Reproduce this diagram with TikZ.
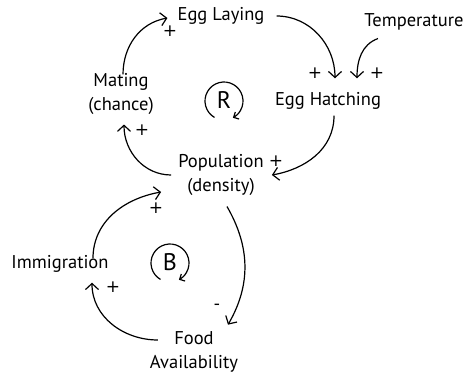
\documentclass[tikz,border=0pt]{standalone}
\usepackage{fontspec}
\setmainfont{PT Sans}
\newfontfamily\signfont{DejaVu Sans}
\usetikzlibrary{arrows.meta}

\tikzset{
  var/.style={align=center, inner sep=2pt, font=\fontsize{18.5}{23.5}\selectfont},
  sign/.style={inner sep=0pt, font=\signfont\fontsize{17}{17}\selectfont},
  link/.style={-{Straight Barb[length=6pt,width=13pt]}, line width=1.2pt},
  loopmark/.style={inner sep=0pt, font=\fontsize{24}{24}\selectfont}
}

\begin{document}
\begin{tikzpicture}[x=1pt, y=-1pt]
\useasboundingbox (0,0) rectangle (472,375);

% variables
\node[var] (egglay) at (221,16) {Egg Laying};
\node[var] (temp) at (414,22) {Temperature};
\node[var] (mating) at (121,94) {Mating\\(chance)};
\node[var] (hatch) at (328,101) {Egg Hatching};
\node[var] (pop) at (221,175) {Population\\(density)};
\node[var] (immig) at (60,264) {Immigration};
\node[var] (food) at (194,352) {Food\\Availability};

% loop markers
\node[loopmark] (R) at (224,100) {R};
\draw[-{Straight Barb[length=4pt,width=8pt]}, line width=1.2pt]
  ([yshift=-1pt]R.center) ++(240:19pt) arc[start angle=240, end angle=-62, radius=19pt];
\node[loopmark] (B) at (170,262) {B};
\draw[-{Straight Barb[length=4pt,width=8pt]}, line width=1.2pt]
  ([yshift=-1pt]B.center) ++(240:19pt) arc[start angle=240, end angle=-62, radius=19pt];

% reinforcing loop
\draw[link] ([xshift=2pt,yshift=-3pt]mating.north) to[out=90, in=190] ([xshift=-8pt,yshift=-2pt]egglay.west);
\draw[link] ([xshift=10pt]egglay.east) to[out=0, in=90] ([xshift=7pt,yshift=12pt]hatch.north);
\draw[link] ([xshift=-36pt,yshift=-6pt]temp.south) to[out=200, in=90] ([xshift=29pt,yshift=12pt]hatch.north);
\draw[link] ([xshift=6pt,yshift=-4pt]hatch.south) to[out=-90, in=10] ([xshift=6pt]pop.east);
\draw[link] ([xshift=-5pt]pop.west) to[out=180, in=-90] ([xshift=3pt,yshift=-8pt]mating.south);

% balancing loop
\draw[link] ([xshift=33pt,yshift=-5pt]immig.north) to[out=90, in=190] ([xshift=-15pt,yshift=-17pt]pop.west);
\draw[link] ([xshift=6pt,yshift=-9pt]pop.south) to[out=-60, in=60] ([xshift=34pt,yshift=5pt]food.north);
\draw[link] ([xshift=10pt,yshift=12pt]food.west) to[out=180, in=-90] ([xshift=32pt,yshift=-8pt]immig.south);

% polarities
\node[sign] (p1) at (170,31) {+};
\node[sign] (p2) at (315,73) {+};
\node[sign] (p3) at (377,73) {+};
\node[sign] (p4) at (276,161) {+};
\node[sign] (p5) at (142,130) {+};
\node[sign] (p6) at (156,208) {+};
\node[sign] (p7) at (217,307) {-};
\node[sign] (p8) at (113,287) {+};

\end{tikzpicture}
\end{document}
